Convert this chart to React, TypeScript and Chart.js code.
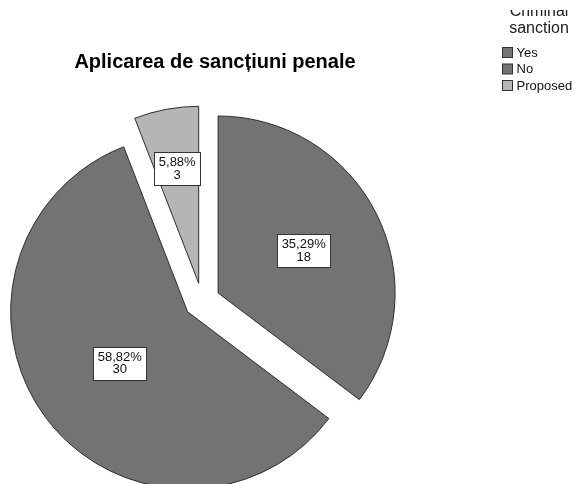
import React, { useEffect, useRef } from "react";
import { Chart, registerables } from "chart.js";

Chart.register(...registerables);

// ---- data ----
const categories = ["Yes", "No", "Proposed"];
const counts = [18, 30, 3];
const percentLabels = ["35,29%", "58,82%", "5,88%"];
const chartTitle = "Aplicarea de sancțiuni penale";
const legendTitle = ["Criminal", "sanction"];

// ---- styles ----
const sliceColors = ["#737373", "#737373", "#b5b5b5"];
const borderColor = "#2e2e2e";
const EXPLODE = 18;
const LABEL_FRACTIONS = [0.54, 0.48, 0.66];
const FONT = '"Liberation Sans", Arial, sans-serif';

const explodePlugin = {
  id: "explodeSlices",
  beforeDatasetsDraw(chart: any) {
    const meta = chart.getDatasetMeta(0);
    const ca = chart.chartArea;
    const cx = (ca.left + ca.right) / 2;
    const cy = (ca.top + ca.bottom) / 2;
    meta.data.forEach((arc: any) => {
      const mid = (arc.startAngle + arc.endAngle) / 2;
      arc.x = cx + Math.cos(mid) * EXPLODE;
      arc.y = cy + Math.sin(mid) * EXPLODE;
    });
  },
};

const labelPlugin = {
  id: "sliceLabels",
  afterDatasetsDraw(chart: any) {
    const ctx = chart.ctx;
    const meta = chart.getDatasetMeta(0);
    ctx.save();
    ctx.font = `13px ${FONT}`;
    ctx.textAlign = "center";
    ctx.textBaseline = "middle";
    meta.data.forEach((arc: any, i: number) => {
      const mid = (arc.startAngle + arc.endAngle) / 2;
      const r = arc.outerRadius * LABEL_FRACTIONS[i];
      const x = arc.x + Math.cos(mid) * r;
      const y = arc.y + Math.sin(mid) * r;
      const l1 = percentLabels[i];
      const l2 = String(counts[i]);
      const w = Math.max(ctx.measureText(l1).width, ctx.measureText(l2).width) + 9;
      const lh = 12.5;
      const h = lh * 2 + 8;
      const bx = Math.round(x - w / 2) + 0.5;
      const by = Math.round(y - h / 2) + 0.5;
      ctx.fillStyle = "#ffffff";
      ctx.fillRect(bx, by, Math.round(w), h);
      ctx.strokeStyle = "#333333";
      ctx.lineWidth = 1;
      ctx.strokeRect(bx, by, Math.round(w), h);
      ctx.fillStyle = "#111111";
      ctx.fillText(l1, x, y - lh / 2 + 0.5);
      ctx.fillText(l2, x, y + lh / 2 + 0.5);
    });
    ctx.restore();
  },
};

const decorPlugin = {
  id: "decor",
  afterDraw(chart: any) {
    const ctx = chart.ctx;
    ctx.save();
    // chart title
    ctx.fillStyle = "#000000";
    ctx.font = `bold 20px ${FONT}`;
    ctx.textAlign = "center";
    ctx.textBaseline = "alphabetic";
    ctx.fillText(chartTitle, 215, 68);

    // legend title (clipped at top like the reference)
    ctx.save();
    ctx.beginPath();
    ctx.rect(470, 10, 107, 40);
    ctx.clip();
    ctx.font = `16px ${FONT}`;
    ctx.fillStyle = "#222222";
    ctx.fillText(legendTitle[0], 539, 16);
    ctx.fillText(legendTitle[1], 539, 33);
    ctx.restore();

    // legend items
    ctx.font = `13px ${FONT}`;
    ctx.textAlign = "left";
    ctx.textBaseline = "middle";
    const ys = [47, 63.5, 80];
    categories.forEach((c, i) => {
      const y = ys[i];
      ctx.fillStyle = sliceColors[i];
      ctx.fillRect(502.5, y + 0.5, 10, 10);
      ctx.strokeStyle = "#333333";
      ctx.lineWidth = 1;
      ctx.strokeRect(502.5, y + 0.5, 10, 10);
      ctx.fillStyle = "#111111";
      ctx.fillText(c, 516.5, y + 6);
    });
    ctx.restore();
  },
};

export default function App() {
  const ref = useRef<HTMLCanvasElement | null>(null);
  useEffect(() => {
    if (!ref.current) return;
    const chart = new Chart(ref.current, {
      type: "pie",
      data: {
        labels: categories,
        datasets: [
          {
            data: counts,
            backgroundColor: sliceColors,
            borderColor: borderColor,
            borderWidth: 1,
            clip: false as any,
          },
        ],
      },
      options: {
        responsive: false,
        animation: false,
        radius: 177,
        layout: { padding: { left: 0, right: 173, top: 118, bottom: 0 } },
        plugins: {
          legend: { display: false },
          title: { display: false },
          tooltip: { enabled: false },
        },
        events: [],
      } as any,
      plugins: [explodePlugin, labelPlugin, decorPlugin],
    });
    return () => chart.destroy();
  }, []);
  return (
    <div style={{ position: "absolute", left: 0, top: 0, width: 577, height: 484, background: "#fff" }}>
      <canvas ref={ref} width={577} height={484} style={{ display: "block" }} />
    </div>
  );
}
